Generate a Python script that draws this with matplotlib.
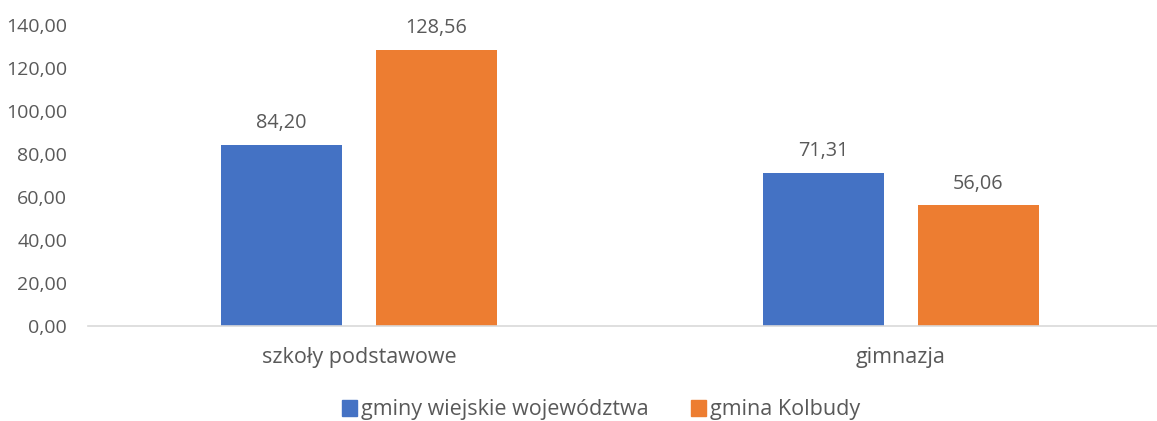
import numpy as np
import matplotlib
matplotlib.use("Agg")
import matplotlib.pyplot as plt
from matplotlib.patches import Patch

# data
categories = ["szkoły podstawowe", "gimnazja"]
series_names = ["gminy wiejskie województwa", "gmina Kolbudy"]
values_gminy = [84.20, 71.31]
values_kolbudy = [128.56, 56.06]
y_ticks = [0, 20, 40, 60, 80, 100, 120, 140]

colors = ["#4472C4", "#ED7D31"]
text_color = "#595959"

plt.rcParams["font.family"] = ["Open Sans", "DejaVu Sans"]


def fmt(v):
    return f"{v:.2f}".replace(".", ",")


fig = plt.figure(figsize=(11.57, 4.21), dpi=100)
# axis extends past the right edge, like the cropped original
ax = fig.add_axes([88 / 1157, 95 / 421, 1084 / 1157, 301 / 421])

x = np.arange(len(categories))
width = 0.2232
offset = 0.143

for vals, off, col in [(values_gminy, -offset, colors[0]), (values_kolbudy, offset, colors[1])]:
    bars = ax.bar(x + off, vals, width=width, color=col)
    for b, v in zip(bars, vals):
        ax.text(b.get_x() + b.get_width() / 2, v + 5.5, fmt(v), ha="center", va="bottom",
                fontsize=14.3, color=text_color)

ax.set_xlim(-0.5, 1.5)
ax.set_ylim(0, 140)
ax.set_yticks(y_ticks)
ax.set_yticklabels([fmt(t) for t in y_ticks])
ax.set_xticks(x)
ax.set_xticklabels(categories)

ax.tick_params(axis="y", length=0, pad=15, labelsize=14, labelcolor=text_color)
ax.tick_params(axis="x", length=0, pad=15, labelsize=15.5, labelcolor=text_color)

for side in ["top", "right", "left"]:
    ax.spines[side].set_visible(False)
ax.spines["bottom"].set_color("#D9D9D9")
ax.spines["bottom"].set_linewidth(1.2)

handles = [Patch(color=c) for c in colors]
fig.legend(handles, series_names, loc="center", bbox_to_anchor=(601 / 1157, 1 - 410 / 421),
           ncol=2, frameon=False, fontsize=15.5, labelcolor=text_color,
           handlelength=0.7, handleheight=0.7, handletextpad=0.15, columnspacing=2.0)

fig.savefig("out.png", dpi=100)
